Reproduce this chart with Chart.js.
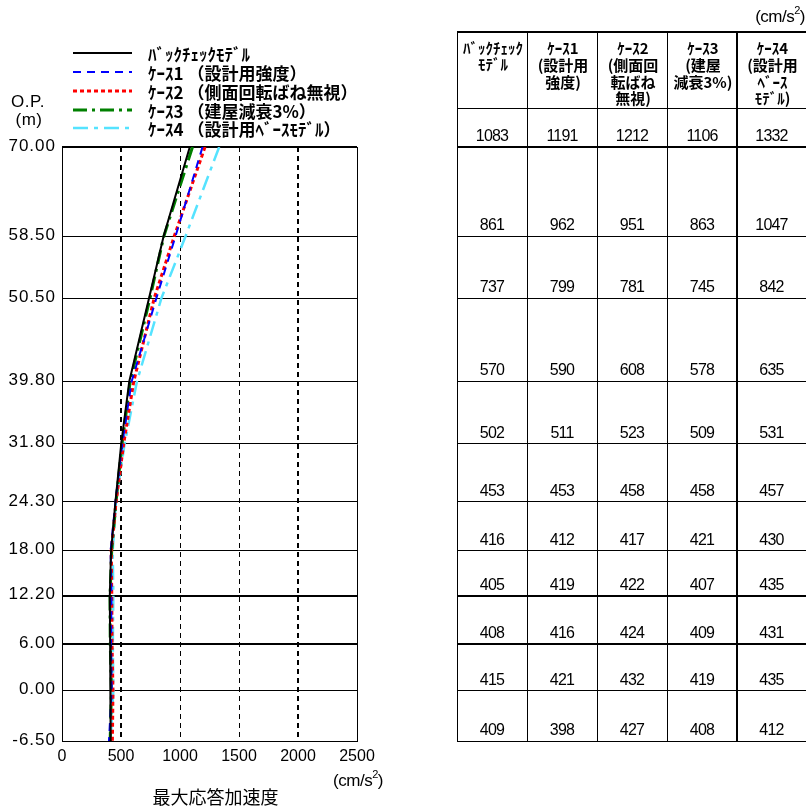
<!DOCTYPE html>
<html>
<head>
<meta charset="utf-8">
<script src="https://cdn.jsdelivr.net/npm/chart.js@4.4.0/dist/chart.umd.min.js"></script>
<style>
  html, body { margin: 0; padding: 0; background: #ffffff; }
  canvas { display: block; }
</style>
</head>
<body>
<canvas id="c" width="806" height="808"></canvas>
<script>
// Floor levels (O.P., m) and their tick labels
const levels = [70.00, 58.50, 50.50, 39.80, 31.80, 24.30, 18.00, 12.20, 6.00, 0.00, -6.50];
const levelLabels = ['70.00', '58.50', '50.50', '39.80', '31.80', '24.30', '18.00', '12.20', '6.00', '0.00', '-6.50'];

// Maximum response acceleration (cm/s2) at each level
const backCheck = [1083, 861, 737, 570, 502, 453, 416, 405, 408, 415, 409];
const case1     = [1191, 962, 799, 590, 511, 453, 412, 419, 416, 421, 398];
const case2     = [1212, 951, 781, 608, 523, 458, 417, 422, 424, 432, 427];
const case3     = [1106, 863, 745, 578, 509, 458, 421, 407, 409, 419, 408];
const case4     = [1332, 1047, 842, 635, 531, 457, 430, 435, 431, 435, 412];

const seriesNames = [
  'ﾊﾞｯｸﾁｪｯｸﾓﾃﾞﾙ',
  'ｹｰｽ1 （設計用強度）',
  'ｹｰｽ2 （側面回転ばね無視）',
  'ｹｰｽ3 （建屋減衰3%）',
  'ｹｰｽ4 （設計用ﾍﾞｰｽﾓﾃﾞﾙ）'
];
const tableHeaders = [
  ['ﾊﾞｯｸﾁｪｯｸ', 'ﾓﾃﾞﾙ'],
  ['ｹｰｽ1', '(設計用', '強度)'],
  ['ｹｰｽ2', '(側面回', '転ばね', '無視)'],
  ['ｹｰｽ3', '(建屋', '減衰3%)'],
  ['ｹｰｽ4', '(設計用', 'ﾍﾞｰｽ', 'ﾓﾃﾞﾙ)']
];
const xTickValues = [0, 500, 1000, 1500, 2000, 2500];
const xGridValues = [500, 1000, 1500, 2000];
const thickLevels = [70.00, 12.20, 6.00];
const xTitle = '最大応答加速度';

const allSeries = [backCheck, case1, case2, case3, case4];
const lineStyles = [
  { color: '#000000', width: 2,   dash: [] },
  { color: '#0000ff', width: 2,   dash: [8, 6] },
  { color: '#ff0000', width: 3,   dash: [4, 3] },
  { color: '#008000', width: 3,   dash: [14, 5, 3, 5] },
  { color: '#55e3ff', width: 2.5, dash: [15, 6, 4, 6] }
];

const JP = "'Noto Sans CJK JP', 'Noto Sans', sans-serif";
const LAT = "'Liberation Sans', Arial, sans-serif";

function crisp(v, w) {
  return (Math.round(w) % 2 === 1) ? Math.floor(v) + 0.5 : Math.round(v);
}
function hLine(ctx, x1, x2, y, w) {
  const yy = crisp(y, w);
  ctx.lineWidth = w;
  ctx.beginPath(); ctx.moveTo(x1, yy); ctx.lineTo(x2, yy); ctx.stroke();
}
function vLine(ctx, x, y1, y2, w) {
  const xx = crisp(x, w);
  ctx.lineWidth = w;
  ctx.beginPath(); ctx.moveTo(xx, y1); ctx.lineTo(xx, y2); ctx.stroke();
}

// Plot frame, level lines and dotted acceleration grid
const framePlugin = {
  id: 'frame',
  beforeDatasetsDraw(chart) {
    const { ctx, chartArea: a, scales: { x, y } } = chart;
    ctx.save();
    ctx.strokeStyle = '#000';
    ctx.setLineDash([5, 4]);
    xGridValues.forEach(v => {
      vLine(ctx, x.getPixelForValue(v), a.top, a.bottom, (v === 500 || v === 2000) ? 2 : 1);
    });
    ctx.setLineDash([]);
    levels.forEach(v => {
      hLine(ctx, a.left, a.right, y.getPixelForValue(v), thickLevels.includes(v) ? 2 : 1);
    });
    vLine(ctx, a.left, a.top, a.bottom + 1, 1);
    vLine(ctx, a.right, a.top, a.bottom + 1, 1);
    ctx.restore();
  }
};

// Axis labels, legend and the value table
const annotatePlugin = {
  id: 'annotate',
  afterDraw(chart) {
    const { ctx, chartArea: a, scales: { x, y } } = chart;
    ctx.save();
    ctx.fillStyle = '#000';

    // y tick labels
    ctx.font = '17px ' + LAT;
    ctx.letterSpacing = '1px';
    ctx.textAlign = 'right';
    ctx.textBaseline = 'middle';
    y.ticks.forEach((t, i) => {
      ctx.fillText(levelLabels[i], 56, y.getPixelForValue(t.value) - 1);
    });
    ctx.textAlign = 'center';
    ctx.letterSpacing = '0.5px';
    ctx.fillText('O.P.', 28, 102);
    ctx.fillText('(m)', 29, 120);
    ctx.letterSpacing = '0px';

    // x title and unit
    ctx.font = '18px ' + JP;
    ctx.fillText(xTitle, (a.left + a.right) / 2 + 6, 797);
    drawUnit(ctx, 358, 781, 'center');
    drawUnit(ctx, 805, 17, 'right');

    // legend
    const legendY = [53, 72, 91, 110, 128];
    chart.data.datasets.forEach((ds, i) => {
      ctx.save();
      ctx.strokeStyle = ds.borderColor;
      ctx.lineWidth = ds.borderWidth;
      ctx.setLineDash(ds.borderDash);
      ctx.beginPath();
      ctx.moveTo(73, legendY[i]); ctx.lineTo(132, legendY[i]);
      ctx.stroke();
      ctx.restore();
      ctx.font = 'bold 17px ' + JP;
      ctx.textAlign = 'left';
      ctx.textBaseline = 'middle';
      ctx.fillText(ds.label, 148, legendY[i] + 2);
    });

    // table
    const cols = [457, 527, 597, 667, 737, 806];
    const headTop = a.top - 115;
    const headBottom = a.top - 39;
    const tableBottom = y.getPixelForValue(levels[levels.length - 1]);
    ctx.strokeStyle = '#000';
    hLine(ctx, cols[0], 806, headTop, 2);
    hLine(ctx, cols[0], 806, headBottom, 1);
    levels.forEach(v => {
      hLine(ctx, cols[0], 806, y.getPixelForValue(v), thickLevels.includes(v) ? 2 : 1);
    });
    for (let c = 0; c < 5; c++) {
      vLine(ctx, cols[c], headTop, tableBottom + 1, c === 4 ? 2 : 1);
    }
    ctx.textAlign = 'center';
    ctx.textBaseline = 'middle';
    ctx.font = 'bold 15px ' + JP;
    const headRows = [48, 65, 82, 98];
    tableHeaders.forEach((lines, c) => {
      const cx = (cols[c] + cols[c + 1]) / 2;
      lines.forEach((t, r) => {
        const yy = (c === 0) ? [48, 64][r] : headRows[r];
        ctx.fillText(t, cx + 1, yy, 64);
      });
    });
    ctx.font = '16px ' + LAT;
    ctx.letterSpacing = '-0.8px';
    ctx.textBaseline = 'alphabetic';
    allSeries.forEach((vals, c) => {
      const cx = (cols[c] + cols[c + 1]) / 2;
      vals.forEach((v, r) => {
        ctx.fillText(String(v), cx, y.getPixelForValue(levels[r]) - 6);
      });
    });
    ctx.restore();
  }
};

function drawUnit(ctx, x, yy, align) {
  ctx.save();
  ctx.textBaseline = 'middle';
  ctx.letterSpacing = '-0.5px';
  const main = '(cm/s', close = ')';
  ctx.font = '17px ' + LAT;
  const w1 = ctx.measureText(main).width;
  const w3 = ctx.measureText(close).width;
  ctx.font = '11px ' + LAT;
  const w2 = ctx.measureText('2').width;
  const total = w1 + w2 + w3;
  const sx = align === 'right' ? x - total : x - total / 2;
  ctx.textAlign = 'left';
  ctx.font = '17px ' + LAT;
  ctx.fillText(main, sx, yy);
  ctx.font = '11px ' + LAT;
  ctx.fillText('2', sx + w1, yy - 6);
  ctx.font = '17px ' + LAT;
  ctx.fillText(close, sx + w1 + w2, yy);
  ctx.restore();
}

const datasets = allSeries.map((vals, i) => ({
  label: seriesNames[i],
  data: vals.map((v, k) => ({ x: v, y: levels[k] })),
  borderColor: lineStyles[i].color,
  borderWidth: lineStyles[i].width,
  borderDash: lineStyles[i].dash,
  borderCapStyle: 'butt',
  pointRadius: 0,
  fill: false,
  tension: 0
}));

new Chart(document.getElementById('c'), {
  type: 'line',
  data: { datasets },
  options: {
    responsive: false,
    animation: false,
    layout: { padding: { left: 0, right: 449, top: 147, bottom: 0 } },
    plugins: { legend: { display: false }, tooltip: { enabled: false } },
    scales: {
      x: {
        type: 'linear',
        position: 'bottom',
        min: 0,
        max: 2500,
        afterBuildTicks: s => { s.ticks = xTickValues.map(v => ({ value: v })); },
        ticks: {
          color: '#000', font: { family: LAT, size: 16 }, padding: 6,
          maxRotation: 0, autoSkip: false,
          callback: v => String(v)
        },
        grid: { display: false, drawTicks: false },
        border: { display: true, color: '#000', width: 1 },
        afterFit: s => { s.height = 67; }
      },
      y: {
        type: 'linear',
        min: -6.5,
        max: 70,
        afterBuildTicks: s => { s.ticks = levels.map(v => ({ value: v })); },
        ticks: { display: false },
        grid: { display: false, drawTicks: false },
        border: { display: false },
        afterFit: s => { s.width = 62; }
      }
    }
  },
  plugins: [framePlugin, annotatePlugin]
});
</script>
</body>
</html>
